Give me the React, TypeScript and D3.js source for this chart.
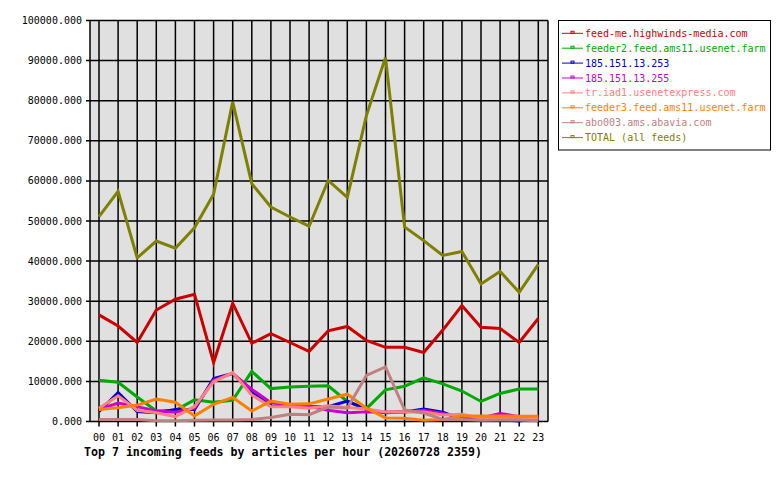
import React, { useEffect, useRef } from 'react';
import * as d3 from 'd3';

const hours = ['00', '01', '02', '03', '04', '05', '06', '07', '08', '09', '10', '11',
  '12', '13', '14', '15', '16', '17', '18', '19', '20', '21', '22', '23'];

const feedMe = [26600, 23800, 19700, 27800, 30500, 31700, 14700, 29500, 19500, 21900, 19700, 17500,
  22600, 23700, 20200, 18500, 18500, 17200, 22800, 28900, 23500, 23200, 19700, 25700];
const feeder2 = [10300, 9800, 6100, 2600, 2800, 5400, 4800, 5300, 12500, 8200, 8600, 8800,
  8900, 5000, 3200, 7900, 8800, 10900, 9400, 7600, 5000, 7000, 8100, 8100];
const ip253 = [2500, 7200, 2500, 2200, 3000, 3000, 10700, 12000, 7300, 3800, 3800, 3700,
  3700, 5100, 3000, 2200, 2400, 3100, 2300, 600, 500, 500, 100, 800];
const ip255 = [3000, 4600, 3700, 2600, 2300, 3300, 10300, 12000, 8000, 4700, 4100, 3800,
  2800, 2200, 2400, 2400, 2400, 2800, 2000, 1100, 900, 2000, 1200, 600];
const trIad1 = [3300, 6400, 2800, 2200, 1200, 3700, 9900, 12200, 6600, 3700, 3700, 3300,
  3900, 3500, 3100, 2400, 2400, 2400, 1600, 1800, 800, 800, 800, 800];
const feeder3 = [3000, 3400, 4100, 5600, 4800, 1400, 4300, 6000, 2600, 5100, 4300, 4400,
  5600, 6800, 3300, 900, 800, 300, 500, 1400, 1400, 1400, 1300, 1300];
const abo003 = [500, 500, 500, 200, 200, 300, 400, 400, 500, 1000, 1800, 1700,
  3600, 3300, 11500, 13600, 2900, 2100, 500, 500, 300, 400, 400, 200];
const total = [51100, 57400, 40800, 45000, 43200, 48300, 56700, 79700, 59300, 53500, 51000, 48700,
  60100, 55900, 76300, 90800, 48500, 45100, 41400, 42400, 34300, 37400, 32200, 39200];

const seriesNames = ['feed-me.highwinds-media.com', 'feeder2.feed.ams11.usenet.farm', '185.151.13.253',
  '185.151.13.255', 'tr.iad1.usenetexpress.com', 'feeder3.feed.ams11.usenet.farm',
  'abo003.ams.abavia.com', 'TOTAL (all feeds)'];
const seriesValues = [feedMe, feeder2, ip253, ip255, trIad1, feeder3, abo003, total];
const seriesColors = ['#cc0000', '#00aa00', '#0000cc', '#cc00cc', '#ff8080', '#ff8000', '#c08080', '#808000'];

const yTicks = d3.range(0, 100001, 10000);
const title = 'Top 7 incoming feeds by articles per hour (20260728 2359)';

const W = 780;
const H = 480;
const plot = { left: 90, right: 548, top: 20.5, bottom: 421.5 };
const mono = '"DejaVu Sans Mono", monospace';

export default function App() {
  const svgRef = useRef<SVGSVGElement>(null);

  useEffect(() => {
    if (!svgRef.current) return;
    const svg = d3.select(svgRef.current);
    svg.selectAll('*').remove();

    const x = d3.scaleLinear().domain([0, hours.length - 1]).range([99, 538.3]);
    const y = d3.scaleLinear().domain([0, 100000]).range([plot.bottom, plot.top]);

    svg.append('rect')
      .attr('x', 0).attr('y', 0).attr('width', W).attr('height', H)
      .attr('fill', '#ffffff');

    svg.append('rect')
      .attr('x', plot.left).attr('y', plot.top)
      .attr('width', plot.right - plot.left).attr('height', plot.bottom - plot.top)
      .attr('fill', '#e0e0e0');

    const grid = svg.append('g').attr('stroke', '#000').attr('stroke-width', 1.5);

    grid.selectAll('line.h')
      .data(yTicks)
      .join('line')
      .attr('class', 'h')
      .attr('x1', plot.left - 4).attr('x2', plot.right)
      .attr('y1', d => y(d)).attr('y2', d => y(d));

    grid.selectAll('line.v')
      .data(hours)
      .join('line')
      .attr('class', 'v')
      .attr('x1', (_, i) => x(i)).attr('x2', (_, i) => x(i))
      .attr('y1', plot.top).attr('y2', plot.bottom + 5);

    grid.append('line')
      .attr('x1', plot.left).attr('x2', plot.left)
      .attr('y1', plot.top).attr('y2', plot.bottom);
    grid.append('line')
      .attr('x1', plot.right).attr('x2', plot.right)
      .attr('y1', plot.top).attr('y2', plot.bottom);

    svg.append('g')
      .selectAll('text')
      .data(yTicks)
      .join('text')
      .attr('x', 82)
      .attr('y', d => y(d))
      .attr('dy', '0.35em')
      .attr('text-anchor', 'end')
      .attr('font-family', mono)
      .attr('font-size', 10)
      .attr('fill', '#000')
      .text(d => d.toFixed(3));

    svg.append('g')
      .selectAll('text')
      .data(hours)
      .join('text')
      .attr('x', (_, i) => x(i))
      .attr('y', 437)
      .attr('dy', '0.35em')
      .attr('text-anchor', 'middle')
      .attr('font-family', mono)
      .attr('font-size', 10)
      .attr('fill', '#000')
      .text(d => d);

    const line = d3.line<number>()
      .x((_, i) => x(i))
      .y(d => y(d));

    seriesValues.forEach((vals, k) => {
      svg.append('path')
        .datum(vals)
        .attr('fill', 'none')
        .attr('stroke', seriesColors[k])
        .attr('stroke-width', 3)
        .attr('stroke-linejoin', 'miter')
        .attr('d', line);
    });

    svg.append('text')
      .attr('x', 84)
      .attr('y', 452)
      .attr('dy', '0.35em')
      .attr('font-family', mono)
      .attr('font-weight', 'bold')
      .attr('font-size', 11.6)
      .attr('fill', '#000')
      .text(title);

    // legend
    const lg = svg.append('g');
    lg.append('rect')
      .attr('x', 558.5).attr('y', 20.5).attr('width', 212).attr('height', 129.5)
      .attr('fill', '#fff').attr('stroke', '#000').attr('stroke-width', 1);

    const rows = lg.selectAll('g.row')
      .data(seriesNames)
      .join('g')
      .attr('class', 'row')
      .attr('transform', (_, i) => `translate(0, ${33.3 + i * 14.9})`);

    rows.append('line')
      .attr('x1', 562).attr('x2', 583).attr('y1', 0).attr('y2', 0)
      .attr('stroke', (_, i) => seriesColors[i]).attr('stroke-width', 1);
    rows.append('rect')
      .attr('x', 571).attr('y', -2).attr('width', 3).attr('height', 2)
      .attr('fill', 'none')
      .attr('stroke', (_, i) => seriesColors[i]).attr('stroke-width', 1);
    rows.append('text')
      .attr('x', 585)
      .attr('y', 0)
      .attr('dy', '0.35em')
      .attr('font-family', mono)
      .attr('font-size', 10)
      .attr('fill', (_, i) => seriesColors[i])
      .text(d => d);
  }, []);

  return (
    <svg
      ref={svgRef}
      width={W}
      height={H}
      style={{ position: 'absolute', left: 0, top: 0 }}
      role="img"
      aria-label="Top 7 incoming feeds by articles per hour"
    />
  );
}
